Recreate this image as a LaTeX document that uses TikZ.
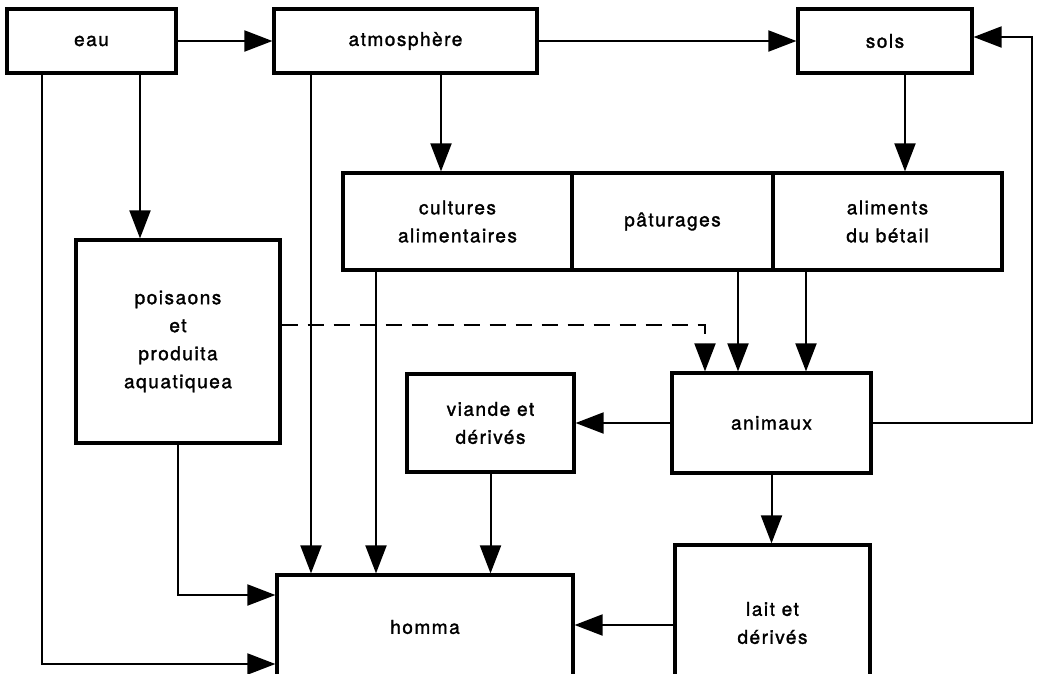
\documentclass[tikz,border=0pt]{standalone}
\usepackage{fontspec}
\setmainfont{TeX Gyre Heros}[LetterSpace=8,FakeBold=1.6]
\usetikzlibrary{arrows.meta}
\begin{document}
\begin{tikzpicture}[x=1pt,y=-1pt,
  box/.style={draw, line width=3.2pt, inner sep=0pt, align=center,
    font=\fontsize{19}{28}\selectfont},
  arr/.style={line width=2pt, -{Triangle[length=28pt,width=21pt]}},
  dsh/.style={arr, dash pattern=on 16pt off 10pt}]
\useasboundingbox[fill=white] (0,0) rectangle (1037,673);
% boxes
\node[box, minimum width=169pt, minimum height=64pt] (eau) at (91.5,41) {eau};
\node[box, minimum width=263pt, minimum height=64pt] (atm) at (405.5,41) {atmosphère};
\node[box, minimum width=174pt, minimum height=64pt] (sols) at (885,41) {sols};
\node[box, minimum width=229pt, minimum height=97pt] (cult) at (457.5,221.5) {cultures\\alimentaires};
\node[box, minimum width=201pt, minimum height=97pt] (pat) at (672.5,221.5) {pâturages};
\node[box, minimum width=229pt, minimum height=97pt] (alim) at (887.5,221.5) {aliments\\du bétail};
\node[box, minimum width=204pt, minimum height=203pt] (poiss) at (178,341.5) {poisaons\\et\\produita\\aquatiquea};
\node[box, minimum width=167pt, minimum height=98pt] (viande) at (490.5,423) {viande et\\dérivés};
\node[box, minimum width=199pt, minimum height=100pt] (anim) at (771.5,423) {animaux};
\node[box, minimum width=296pt, minimum height=104pt] (homme) at (425,627) {homma};
\node[box, minimum width=195pt, minimum height=156pt] (lait) at (772.5,623) {lait et\\dérivés};
% helper coordinates
\coordinate (c1) at (42,664);
\coordinate (c2) at (140,0);
\coordinate (c3) at (311,0);
\coordinate (c4) at (441,0);
\coordinate (c5) at (905,0);
\coordinate (c6) at (376,0);
\coordinate (c7) at (738,0);
\coordinate (c8) at (806,0);
\coordinate (d1) at (705,325);
\coordinate (r1) at (1032,37);
\coordinate (p1) at (178,595);
\coordinate (l1) at (0,625);
% connectors
\draw[arr] (eau.east) -- (atm.west);
\draw[arr] (atm.east) -- (sols.west);
\draw[arr] (c1 |- eau.south) -- (c1) -- (c1 -| homme.west);
\draw[arr] (c2 |- eau.south) -- (c2 |- poiss.north);
\draw[arr] (c3 |- atm.south) -- (c3 |- homme.north);
\draw[arr] (c4 |- atm.south) -- (c4 |- cult.north);
\draw[arr] (c5 |- sols.south) -- (c5 |- alim.north);
\draw[arr] (c6 |- cult.south) -- (c6 |- homme.north);
\draw[arr] (c7 |- pat.south) -- (c7 |- anim.north);
\draw[arr] (c8 |- alim.south) -- (c8 |- anim.north);
\draw[dsh] (d1 -| poiss.east) -- (d1) -- (d1 |- anim.north);
\draw[arr] (anim.west) -- (viande.east);
\draw[arr] (anim.east) -| (r1) -- (r1 -| sols.east);
\draw[arr] (anim.south) -- (anim.south |- lait.north);
\draw[arr] (viande.south) -- (viande.south |- homme.north);
\draw[arr] (poiss.south) |- (p1 -| homme.west);
\draw[arr] (l1 -| lait.west) -- (l1 -| homme.east);
\end{tikzpicture}
\end{document}
